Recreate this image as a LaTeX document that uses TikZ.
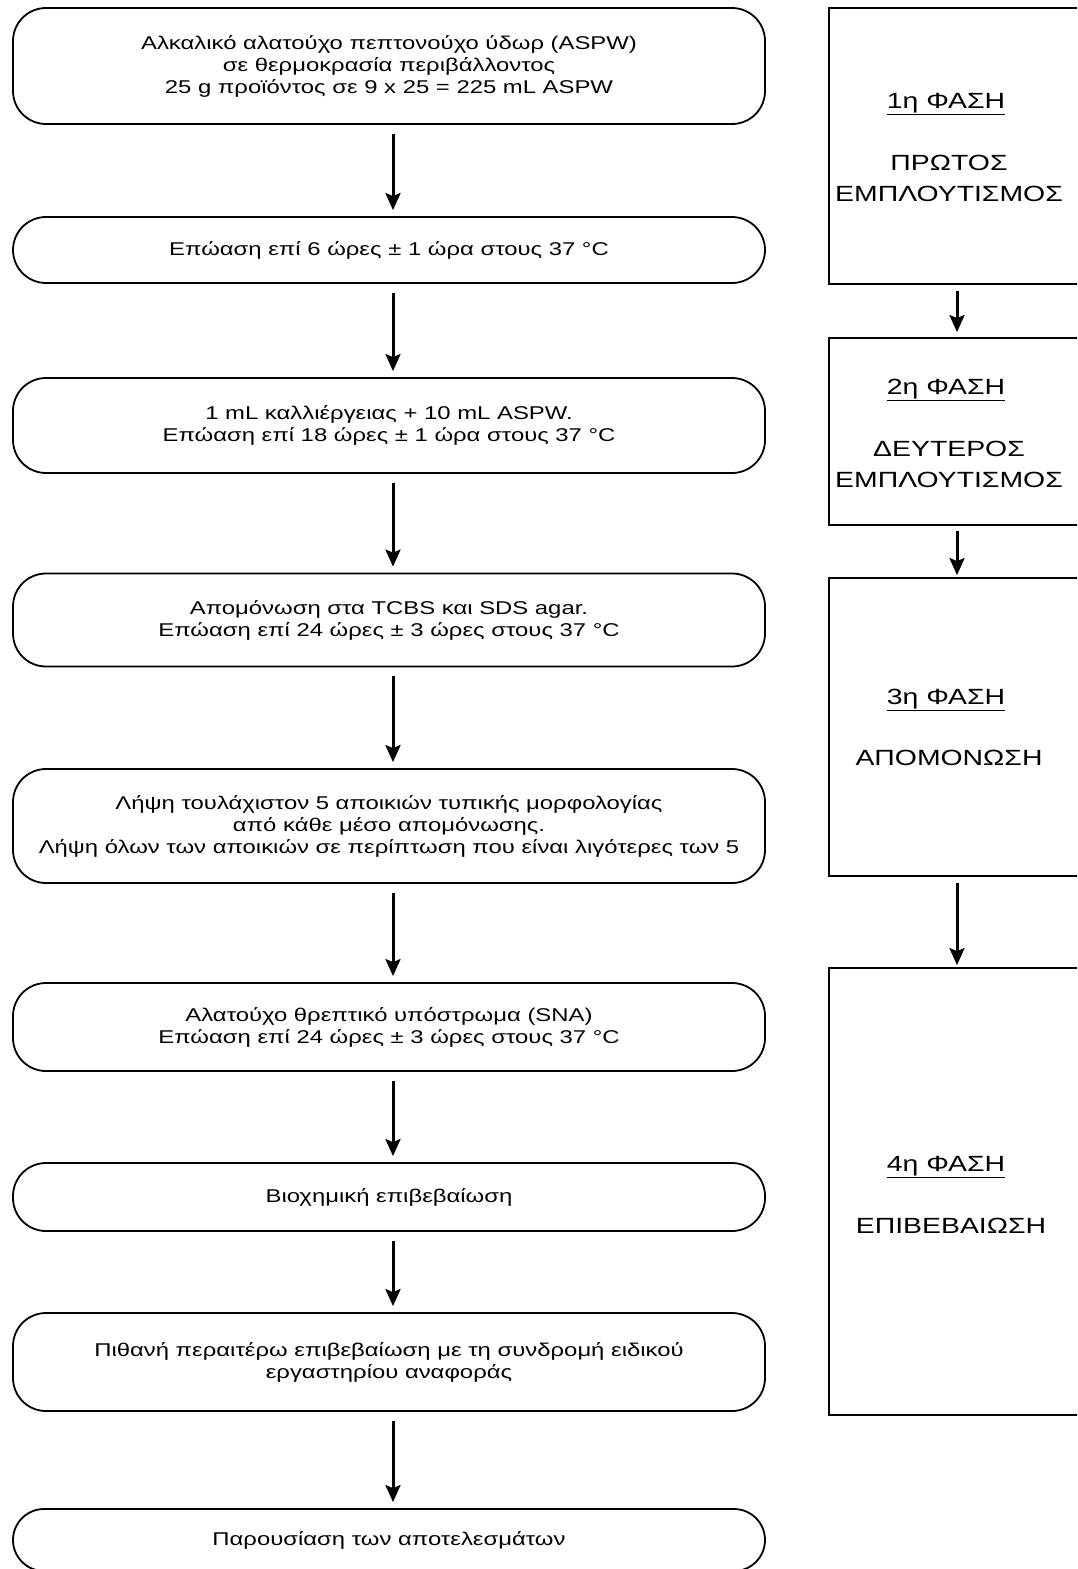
\documentclass[tikz,border=0pt]{standalone}
\usepackage{fontspec}
\setmainfont{Liberation Sans}[FakeStretch=1.29]
\usetikzlibrary{arrows.meta}
\begin{document}
\begin{tikzpicture}[x=1pt,y=-1pt,
  box/.style={draw, line width=1.8pt, rounded corners=33pt, minimum width=752pt, inner sep=0pt, align=center, font=\fontsize{18.5}{22}\selectfont},
  boxs/.style={box, rounded corners=31pt},
  phase/.style={draw, line width=1.8pt, minimum width=256pt, inner sep=0pt},
  ptext/.style={font=\fontsize{22}{31}\selectfont, align=center, inner sep=0pt},
  arr/.style={line width=3pt, -{Stealth[length=17pt,width=15pt,inset=3pt]}}]
\useasboundingbox (0,0) rectangle (1077,1569);
\clip (0,0) rectangle (1077,1569);
% left column
\node[box, minimum height=116pt] (b1) at (389,66) {Αλκαλικό αλατούχο πεπτονούχο ύδωρ (ASPW)\\σε θερμοκρασία περιβάλλοντος\\25 g προϊόντος σε 9 x 25 = 225 mL ASPW};
\node[box, minimum height=66pt] (b2) at (389,250) {Επώαση επί 6 ώρες ± 1 ώρα στους 37 °C};
\node[box, minimum height=95pt] (b3) at (389,425.5) {1 mL καλλιέργειας + 10 mL ASPW.\\Επώαση επί 18 ώρες ± 1 ώρα στους 37 °C};
\node[box, minimum height=93pt] (b4) at (389,620) {Απομόνωση στα TCBS και SDS agar.\\Επώαση επί 24 ώρες ± 3 ώρες στους 37 °C};
\node[box, minimum height=114pt] (b5) at (389,826) {Λήψη τουλάχιστον 5 αποικιών τυπικής μορφολογίας\\από κάθε μέσο απομόνωσης.\\Λήψη όλων των αποικιών σε περίπτωση που είναι λιγότερες των 5};
\node[box, minimum height=88pt] (b6) at (389,1027) {Αλατούχο θρεπτικό υπόστρωμα (SNA)\\Επώαση επί 24 ώρες ± 3 ώρες στους 37 °C};
\node[box, minimum height=68pt] (b7) at (389,1197) {Βιοχημική επιβεβαίωση};
\node[box, minimum height=98pt] (b8) at (389,1362) {Πιθανή περαιτέρω επιβεβαίωση με τη συνδρομή ειδικού\\εργαστηρίου αναφοράς};
\node[boxs, minimum height=62pt] (b9) at (389,1540) {Παρουσίαση των αποτελεσμάτων};
\foreach \a/\b in {b1/b2,b2/b3,b3/b4,b4/b5,b5/b6,b6/b7,b7/b8,b8/b9}
  \draw[arr, shorten <=9pt, shorten >=6pt] ([xshift=4pt]\a.south) -- ([xshift=4pt]\b.north);
% right column
\node[phase, minimum height=276pt] (p1) at (957,146) {};
\node[phase, minimum height=187pt] (p2) at (957,431.5) {};
\node[phase, minimum height=298pt] (p3) at (957,727) {};
\node[phase, minimum height=447pt] (p4) at (957,1191.5) {};
\node[ptext] (p1h) at (946,104) {\underline{1η ΦΑΣΗ}};
\node[ptext] (p1t) at (949,178) {ΠΡΩΤΟΣ\\ΕΜΠΛΟΥΤΙΣΜΟΣ};
\node[ptext] (p2h) at (946,390) {\underline{2η ΦΑΣΗ}};
\node[ptext] (p2t) at (949,464) {ΔΕΥΤΕΡΟΣ\\ΕΜΠΛΟΥΤΙΣΜΟΣ};
\node[ptext] (p3h) at (946,700) {\underline{3η ΦΑΣΗ}};
\node[ptext] (p3t) at (949,758) {ΑΠΟΜΟΝΩΣΗ};
\node[ptext] (p4h) at (946,1167) {\underline{4η ΦΑΣΗ}};
\node[ptext] (p4t) at (951,1226) {ΕΠΙΒΕΒΑΙΩΣΗ};
\draw[arr, shorten <=6pt, shorten >=5pt] (p1.south) -- (p2.north);
\draw[arr, shorten <=5pt, shorten >=2pt] (p2.south) -- (p3.north);
\draw[arr, shorten <=6pt, shorten >=2pt] (p3.south) -- (p4.north);
\end{tikzpicture}
\end{document}
